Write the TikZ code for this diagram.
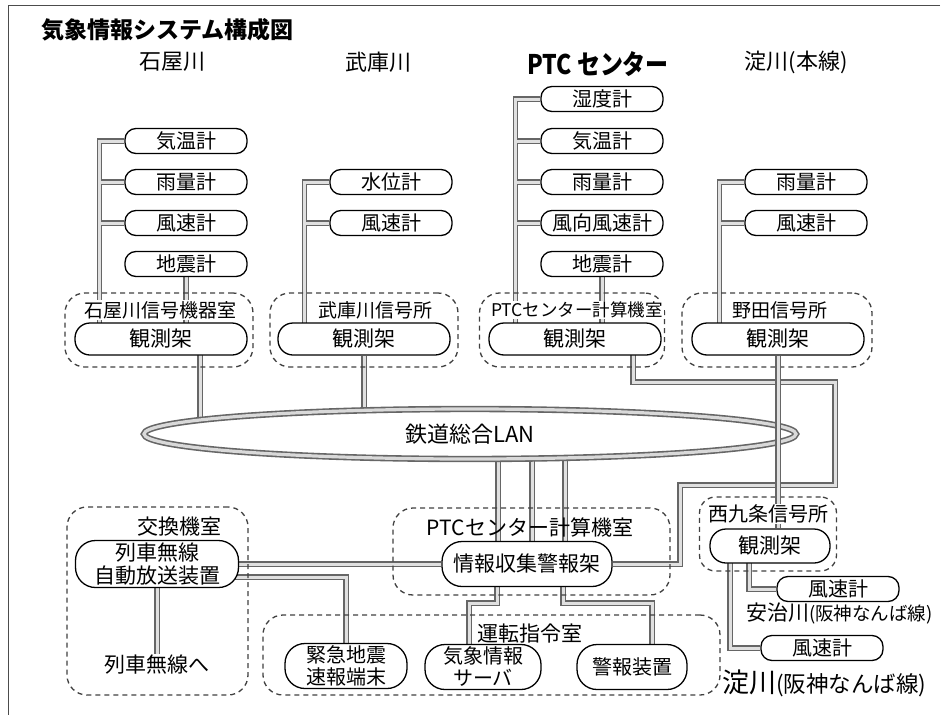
\documentclass[tikz,border=0pt]{standalone}
\usepackage{fontspec}
\usepackage{graphicx}
\setmainfont{Noto Sans CJK JP}
\usetikzlibrary{shapes.geometric,calc}
\pgfdeclarelayer{cableout}
\pgfdeclarelayer{cablein}
\pgfsetlayers{cableout,cablein,main}
\newcommand{\setfs}[2]{\fontsize{#1pt}{#2pt}\selectfont}
\newcommand{\cable}[1]{%
  \begin{pgfonlayer}{cableout}\draw[cable outer] #1;\end{pgfonlayer}%
  \begin{pgfonlayer}{cablein}\draw[cable inner] #1;\end{pgfonlayer}}
\tikzset{
  sensor/.style={draw, line width=1.3pt, rounded corners=11pt, fill=white,
    minimum width=122pt, minimum height=25pt, inner sep=0pt, font=\setfs{20}{24}},
  rack/.style={sensor, rounded corners=15pt, minimum width=172pt, minimum height=32pt, font=\setfs{21}{24}},
  terminal/.style={sensor, rounded corners=20pt, minimum height=45pt, align=center, font=\setfs{20}{22}},
  room/.style={draw=black!75, dash pattern=on 5pt off 4pt, line width=1.3pt, rounded corners=20pt, inner sep=0pt},
  roomlabel/.style={fill=white, inner sep=1pt, font=\setfs{19}{22}},
  heading/.style={font=\setfs{22}{26}},
  cable outer/.style={line width=5.6pt, black!60},
  cable inner/.style={line width=3pt, black!12},
  cable top/.style={draw=black!60, line width=1.3pt, double=black!12, double distance=3pt},
  lan/.style={ellipse, draw=black!60, line width=1.6pt, double=black!15, double distance=3.2pt,
    fill=white, inner sep=0pt, minimum width=652pt, minimum height=50pt, font=\setfs{22}{24}}
}
\begin{document}
\begin{tikzpicture}[x=1pt,y=-1pt]
  \useasboundingbox (0,0) rectangle (943,715);
  \draw[black!70, line width=1pt] (940,5) -- (8,5) -- (8,715);
  \node[anchor=west, font=\setfs{23}{26}\bfseries] (title) at (38,30) {気象情報システム構成図};
  \node[heading] (hd1) at (172,62) {石屋川};
  \node[heading] (hd2) at (378,62) {武庫川};
  \node[font=\setfs{27}{30}\bfseries] (hd3) at (598,64) {\scalebox{0.85}[1]{PTC センター}};
  \node[heading] (hd4) at (796,62) {淀川(本線)};

  \node[sensor] (kion1) at (186,141) {気温計};
  \node[sensor] (uryo1) at (186,182) {雨量計};
  \node[sensor] (fusoku1) at (186,223) {風速計};
  \node[sensor] (jishin1) at (186,264) {地震計};
  \node[sensor] (suii2) at (391,182) {水位計};
  \node[sensor] (fusoku2) at (391,223) {風速計};
  \node[sensor] (shitsudo3) at (602,99) {湿度計};
  \node[sensor] (kion3) at (602,141) {気温計};
  \node[sensor] (uryo3) at (602,182) {雨量計};
  \node[sensor] (fukou3) at (602,223) {風向風速計};
  \node[sensor] (jishin3) at (602,264) {地震計};
  \node[sensor] (uryo4) at (806,182) {雨量計};
  \node[sensor] (fusoku4) at (806,223) {風速計};

  \node[room, minimum width=188pt, minimum height=74pt] (room1) at (159,330) {};
  \node[room, minimum width=188pt, minimum height=74pt] (room2) at (364,330) {};
  \node[room, minimum width=185pt, minimum height=74pt] (room3) at (572,330) {};
  \node[room, minimum width=190pt, minimum height=74pt] (room4) at (777,330) {};
  \node[roomlabel] (lbl1) at (160,310) {石屋川信号機器室};
  \node[roomlabel] (lbl2) at (375,310) {武庫川信号所};
  \node[roomlabel, font=\setfs{17.5}{22}] (lbl3) at (577,310) {PTCセンター計算機室};
  \node[roomlabel] (lbl4) at (780,310) {野田信号所};
  \node[rack] (kan1) at (161,339) {観測架};
  \node[rack] (kan2) at (364,339) {観測架};
  \node[rack] (kan3) at (575,339) {観測架};
  \node[rack] (kan4) at (778,339) {観測架};

  \node[lan] (lan) at (470,434) {鉄道総合LAN};

  \node[room, minimum width=181pt, minimum height=188pt] (room5) at (157.5,601) {};
  \node[font=\setfs{21}{24}] (lbl5) at (179,527) {交換機室};
  \node[rack, minimum width=163pt, minimum height=47pt, rounded corners=20pt, align=center,
    font=\setfs{21}{23}] (ressha) at (157,564) {列車無線\\自動放送装置};
  \node[font=\setfs{21}{24}, fill=white, inner sep=1pt] (retsuhe) at (157,665) {列車無線へ};

  \node[room, minimum width=277pt, minimum height=87pt] (room6) at (531.5,551.5) {};
  \node[font=\setfs{21}{24}] (lbl6) at (530,527) {PTCセンター計算機室};
  \node[rack, minimum width=170pt, minimum height=45pt, rounded corners=20pt] (joho) at (527,564) {情報収集警報架};

  \node[room, minimum width=457pt, minimum height=80pt] (room7) at (491.5,655) {};
  \node[font=\setfs{21}{24}] (lbl7) at (530,634) {運転指令室};
  \node[terminal] (kinkyu) at (346,666) {緊急地震\\速報端末};
  \node[terminal, minimum width=116pt] (server) at (483,667) {気象情報\\サーバ};
  \node[terminal, minimum width=110pt] (keiho) at (632,667) {警報装置};

  \node[room, minimum width=137pt, minimum height=74pt, rounded corners=16pt] (room8) at (768,534) {};
  \node[rack, minimum width=120pt, minimum height=34pt, rounded corners=16pt] (kan5) at (770,546) {観測架};
  \node[sensor] (fusoku5a) at (838,589) {風速計};
  \node[anchor=west, font=\setfs{21}{24}, inner sep=0pt] (ajigawa) at (746,613) {安治川{\setfs{18.5}{22}(阪神なんば線)}};
  \node[sensor] (fusoku5b) at (822,648) {風速計};
  \node[anchor=west, font=\setfs{27}{28}, inner sep=0pt] (yodogawa) at (722,683) {淀川{\setfs{22.5}{24}(阪神なんば線)}};

  \cable{(kion1.west) -- ++(-25,0) coordinate (t1) -- (t1 |- kan1)}
  \cable{(uryo1) -- (uryo1 -| t1)}
  \cable{(fusoku1) -- (fusoku1 -| t1)}
  \cable{(jishin1) -- (jishin1 |- kan1)}
  \cable{(suii2.west) -- ++(-25,0) coordinate (t2) -- (t2 |- kan2)}
  \cable{(fusoku2) -- (fusoku2 -| t2)}
  \cable{(shitsudo3.west) -- ++(-25,0) coordinate (t3) -- (t3 |- kan3)}
  \cable{(kion3) -- (kion3 -| t3)}
  \cable{(uryo3) -- (uryo3 -| t3)}
  \cable{(fukou3) -- (fukou3 -| t3)}
  \cable{(jishin3) -- (jishin3 |- kan3)}
  \cable{(uryo4.west) -- ++(-25,0) coordinate (t4) -- (t4 |- kan4)}
  \cable{(fusoku4) -- (fusoku4 -| t4)}
  \cable{(kan1 -| 200,0) -- (lan -| 200,0)}
  \cable{(kan2) -- (kan2 |- lan)}
  \cable{(kan3 -| 633,0) |- (835,382) |- (680,485) |- (joho)}
  \cable{(lan -| 498,0) -- (joho -| 498,0)}
  \cable{(lan -| 532,0) -- (joho -| 532,0)}
  \cable{(lan -| 565,0) -- (joho -| 565,0)}
  \cable{(ressha) -- (joho)}
  \cable{(ressha) ++(0,13) -| (kinkyu)}
  \cable{(ressha) -- (retsuhe.north)}
  \cable{(joho -| 497,0) |- (469,603) -- (server -| 469,0)}
  \cable{(joho -| 563,0) |- (652,603) -- (keiho -| 652,0)}
  \cable{(kan5 -| 749,0) |- (fusoku5a)}
  \cable{(kan5 -| 730,0) |- (fusoku5b)}

  \draw[cable top] (kan4.south) -- (kan4.south |- kan5.north);
  \node[roomlabel, font=\setfs{20}{22}] (lbl8) at (768,514) {西九条信号所};
\end{tikzpicture}
\end{document}
